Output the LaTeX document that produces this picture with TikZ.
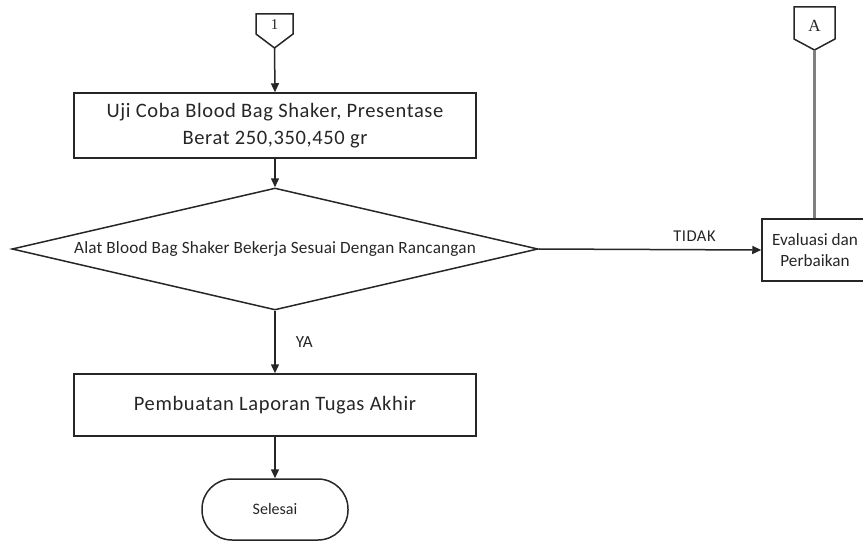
\documentclass[tikz,border=0pt]{standalone}
\usepackage{fontspec}
\setmainfont{Carlito}
\newfontfamily\serifA{Liberation Serif}
\usetikzlibrary{arrows.meta,shapes.geometric}
\begin{document}
\begin{tikzpicture}[x=1pt,y=-1pt,
  line/.style={draw=black!85,line width=1.5pt},
  arr/.style={line,-{Triangle[length=9pt,width=8pt]}},
  procbox/.style={line,rectangle,inner sep=0pt,align=center,text=black!85},
  lbl/.style={text=black!85,inner sep=0pt},
]
\useasboundingbox (0,0) rectangle (863,543);
% off-page connectors
\node[lbl,font=\serifA\fontsize{15}{15}\selectfont] (c1) at (274.5,25) {1};
\draw[line] ([shift={(-18.5,-11)}]c1.center) -- ([shift={(18.5,-11)}]c1.center)
  -- ([shift={(18.5,9)}]c1.center) -- ([shift={(0,23)}]c1.center) coordinate (c1tip)
  -- ([shift={(-18.5,9)}]c1.center) -- cycle;
\node[lbl,font=\serifA\fontsize{17}{17}\selectfont] (cA) at (814.5,26) {A};
\draw[line] ([shift={(-20.5,-19)}]cA.center) -- ([shift={(20.5,-19)}]cA.center)
  -- ([shift={(20.5,13)}]cA.center) -- ([shift={(0,24)}]cA.center) coordinate (cAtip)
  -- ([shift={(-20.5,13)}]cA.center) -- cycle;
% process boxes
\node[procbox,minimum width=402pt,minimum height=65pt,
  font=\addfontfeatures{LetterSpace=3}\fontsize{20.5}{27}\selectfont] (b1) at (275,125.5)
  {Uji Coba Blood Bag Shaker, Presentase\\Berat 250,350,450 gr};
\node[line,diamond,aspect=4.31,minimum width=526pt,minimum height=122pt,inner sep=0pt,
  text=black!85,font=\addfontfeatures{LetterSpace=1}\fontsize{17.2}{17}\selectfont] (d1) at (275,249)
  {Alat Blood Bag Shaker Bekerja Sesuai Dengan Rancangan};
\node[procbox,minimum width=402pt,minimum height=62pt,
  font=\addfontfeatures{LetterSpace=3}\fontsize{20.5}{24}\selectfont] (b2) at (275,405)
  {Pembuatan Laporan Tugas Akhir};
\node[procbox,minimum width=146pt,minimum height=61pt,rounded corners=30pt,
  font=\fontsize{16}{16}\selectfont] (end) at (275,509.5) {Selesai};
\node[procbox,minimum width=106pt,minimum height=62pt,
  font=\fontsize{17.2}{21}\selectfont] (ev) at (815,250)
  {Evaluasi dan\\Perbaikan};
% connectors
\draw[arr] (c1tip) -- (b1.north);
\draw[arr] (b1.south) -- (d1.north);
\draw[arr] (d1.south) -- node[lbl,right=20pt,pos=0.5,font=\fontsize{17}{17}\selectfont] (ya) {YA} (b2.north);
\draw[arr] (b2.south) -- (end.north);
\draw[arr] (d1.east) -- node[lbl,above=7pt,pos=0.7,font=\addfontfeatures{LetterSpace=3}\fontsize{16.5}{16}\selectfont] (tidak) {TIDAK} (ev.west);
\draw[draw=black!50,line width=2.2pt] (cAtip) -- (cAtip |- ev.north);
\end{tikzpicture}
\end{document}
